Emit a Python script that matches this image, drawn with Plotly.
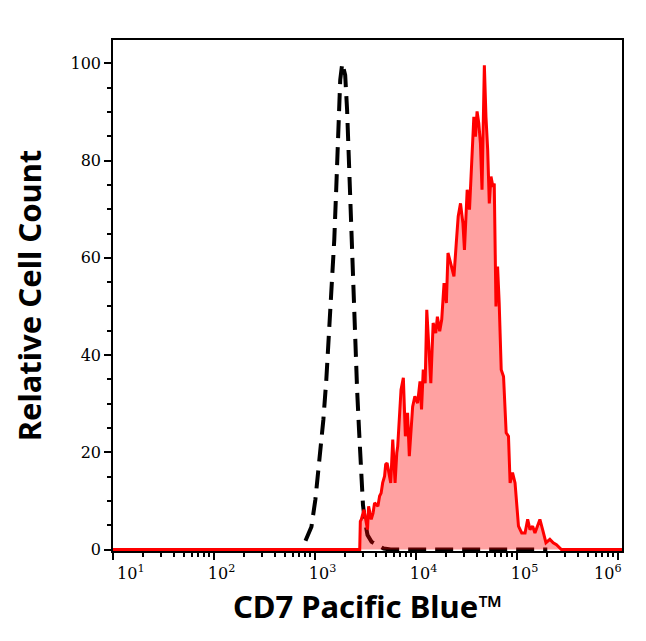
import plotly.graph_objects as go

# Control (isotype) - log10 of intensity and relative count
ctrl_log = [2.906, 2.965, 3.004, 3.043, 3.083, 3.112, 3.141, 3.161, 3.191,
            3.210, 3.230, 3.250, 3.270, 3.299, 3.318, 3.338, 3.358, 3.377, 3.397,
            3.417, 3.436, 3.456, 3.475, 3.495, 3.52, 3.56, 3.62, 3.68, 3.75, 4.5, 5.3]
ctrl_count = [1.8, 4.7, 10.3, 18.5, 26.7, 34.9, 45.2, 53.4, 63.7,
              74.0, 86.3, 96.6, 100.0, 97.6, 90.4, 78.0, 65.7, 53.4, 43.1,
              32.9, 24.7, 16.4, 9.2, 5.8, 3.0, 1.6, 0.8, 0.2, 0, 0, 0]

# CD7 stained sample
cd7_log = [1.0, 2.0, 3.0, 3.443, 3.449, 3.459, 3.485, 3.508, 3.52, 3.531, 3.557, 3.575,
           3.590, 3.623, 3.64, 3.655, 3.67, 3.689, 3.70, 3.714, 3.738, 3.75, 3.770,
           3.793, 3.81, 3.819, 3.852, 3.875, 3.895, 3.917, 3.934, 3.967, 3.989,
           4.016, 4.04, 4.055, 4.072, 4.091, 4.107, 4.131, 4.147, 4.170, 4.196,
           4.212, 4.235, 4.255, 4.278, 4.301, 4.317, 4.343, 4.376, 4.399, 4.418,
           4.441, 4.465, 4.480, 4.507, 4.530, 4.556, 4.573, 4.589, 4.605, 4.622,
           4.638, 4.654, 4.677, 4.693, 4.710, 4.726, 4.743, 4.762, 4.775, 4.792,
           4.808, 4.824, 4.844, 4.867, 4.893, 4.916, 4.932, 4.956, 4.981, 5.015,
           5.047, 5.080, 5.106, 5.129, 5.155, 5.178, 5.204, 5.227, 5.254, 5.287,
           5.326, 5.359, 5.391, 5.440, 6.04]
cd7_count = [0, 0, 0, 0, 5.8, 6.2, 8.2, 4.8, 4.1, 8.9, 6.2, 7.5,
             9.6, 8.9, 11.0, 11.6, 13.7, 15.1, 17.5, 17.8, 15.1, 13.7, 22.6,
             13.7, 19.9, 21.2, 32.9, 35.3, 23.3, 28.1, 19.2, 29.4, 31.5,
             30.1, 34.6, 28.8, 37.0, 34.2, 49.3, 41.1, 34.2, 46.6, 44.5,
             47.9, 44.9, 47.3, 54.8, 50.7, 61.0, 58.9, 56.2, 63.0, 68.5,
             71.2, 67.1, 61.6, 74.0, 69.9, 80.8, 89.0, 84.9, 90.1, 87.7,
             83.6, 74.0, 99.6, 89.0, 82.2, 71.2, 76.7, 74.6, 75.3, 50.0,
             58.2, 50.7, 37.0, 35.6, 24.0, 23.3, 13.7, 15.8, 13.7, 4.8,
             3.4, 3.4, 6.2, 4.1, 4.8, 3.4, 4.8, 6.2, 4.1, 1.4,
             2.1, 1.4, 1.0, 0, 0]

decades = [1, 2, 3, 4, 5, 6]
nb = "\u00a0"
# labels sit a little right of their ticks; the end ones are kept inside the frame
decade_labels = [nb * 3 + "10<sup>%d</sup>" % d for d in decades]
decade_labels[0] = nb * 7 + "10<sup>1</sup>"
decade_labels[-1] = "10<sup>6</sup>" + nb * 4

x_ctrl = [10 ** v for v in ctrl_log]
x_cd7 = [10 ** v for v in cd7_log]
minor_x = [m * 10 ** d for d in range(1, 6) for m in range(2, 10)]

fig = go.Figure()
fig.add_trace(go.Scatter(
    x=x_ctrl, y=ctrl_count,
    mode="lines",
    line=dict(color="black", width=4, dash="18px,9px"),
    showlegend=False,
))
fig.add_trace(go.Scatter(
    x=x_cd7, y=cd7_count,
    mode="lines",
    fill="tozeroy",
    fillcolor="rgba(255,0,0,0.37)",
    line=dict(color="red", width=3),
    showlegend=False,
))

# page body adds ~8px offset, margins account for it
fig.update_layout(
    width=646, height=641,
    margin=dict(l=105, r=28, t=32, b=98),
    plot_bgcolor="white",
    paper_bgcolor="white",
    font=dict(family="DejaVu Serif", size=14, color="black"),
)

fig.update_xaxes(
    type="log",
    range=[1.0, 6.04],
    tickvals=[10 ** d for d in decades],
    ticktext=decade_labels,
    ticks="outside", ticklen=7, tickwidth=2, tickcolor="black",
    minor=dict(tickvals=minor_x, ticks="outside", ticklen=4, tickwidth=1.5,
               tickcolor="black"),
    showline=True, linewidth=1.5, linecolor="black", mirror=True,
    showgrid=False, zeroline=False,
    tickfont=dict(family="DejaVu Serif", size=16),
    title=dict(text="CD7 Pacific Blue™", standoff=14,
               font=dict(family="Noto Sans", size=31, weight="bold")),
)
fig.update_yaxes(
    range=[-0.3, 104.8],
    tickvals=[0, 20, 40, 60, 80, 100],
    ticks="outside", ticklen=7, tickwidth=2, tickcolor="black",
    minor=dict(dtick=5, ticks="outside", ticklen=4, tickwidth=1.5,
               tickcolor="black"),
    showline=True, linewidth=1.5, linecolor="black", mirror=True,
    showgrid=False, zeroline=False,
    tickfont=dict(family="DejaVu Serif", size=16),
    title=dict(text="Relative Cell Count", standoff=22,
               font=dict(family="Noto Sans", size=31, weight="bold")),
)

fig.write_html("out.html")
